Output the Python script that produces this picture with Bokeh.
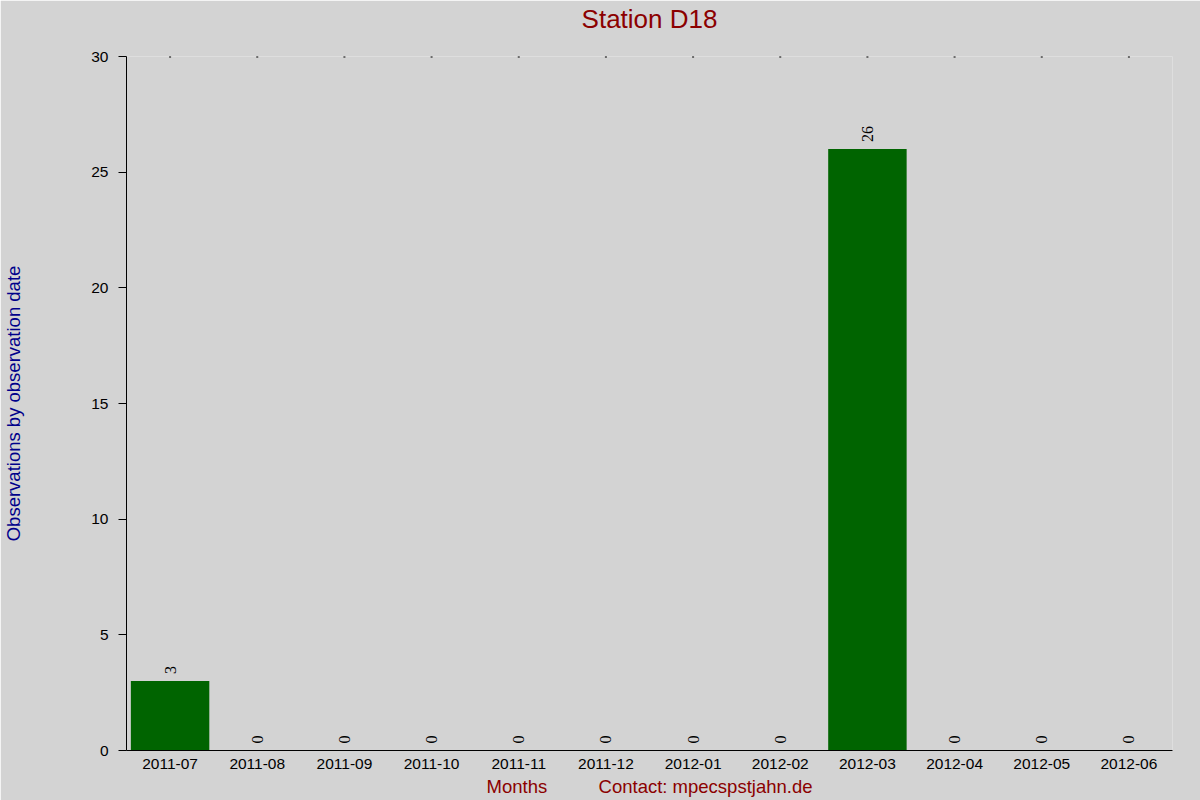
import math
from bokeh.plotting import figure
from bokeh.models import ColumnDataSource, LabelSet, FixedTicker, Range1d, Title
from bokeh.embed import file_html
from bokeh.resources import INLINE

months = ["2011-07", "2011-08", "2011-09", "2011-10", "2011-11", "2011-12",
          "2012-01", "2012-02", "2012-03", "2012-04", "2012-05", "2012-06"]
counts = [3, 0, 0, 0, 0, 0, 0, 0, 26, 0, 0, 0]
y_ticks = [0, 5, 10, 15, 20, 25, 30]
y_max = 30

title_text = "Station D18"
x_label = "Months" + "\u00a0" * 10 + "Contact: mpecspstjahn.de"
y_label = "Observations by observation date"

FONT = "Liberation Sans"
BG = "#d3d3d3"

src = ColumnDataSource(dict(month=months, count=counts, label=[str(c) for c in counts]))
top_src = ColumnDataSource(dict(month=months, top=[y_max] * len(months)))

p = figure(x_range=months, y_range=Range1d(0, y_max), width=1200, height=800,
           output_backend="svg", toolbar_location=None, title_location=None,
           min_border_left=126, min_border_right=28, min_border_top=56, min_border_bottom=50,
           background_fill_color=BG, border_fill_color=BG, outline_line_color=None)

# spacer between frame and title (keeps the title near the top edge)
spacer = Title(text="\u00a0", text_font_size="8px", standoff=8, text_color=BG)
p.add_layout(spacer, "above")

main_title = Title(text=title_text, align="center", vertical_align="top", standoff=4,
                   text_font=FONT, text_font_size="26px", text_font_style="normal",
                   text_color="#8b0000")
p.add_layout(main_title, "above")

p.vbar(x="month", top="count", width=0.9, source=src, fill_color="#006400", line_color=None)

# tiny tick dots along the top edge
p.scatter(x="month", y="top", source=top_src, marker="square", size=2,
          fill_color="black", line_color=None)

labels = LabelSet(x="month", y="count", text="label", source=src, angle=math.pi / 2,
                  text_align="left", text_baseline="middle", y_offset=7,
                  text_font=FONT, text_font_size="16px", text_color="black")
p.add_layout(labels)

p.xgrid.visible = False
p.ygrid.visible = False

ya = p.yaxis[0]
ya.ticker = FixedTicker(ticks=y_ticks)
ya.minor_tick_line_color = None
ya.major_tick_in = 0
ya.major_tick_out = 8
ya.major_label_standoff = 10
ya.axis_line_color = "black"
ya.major_label_text_font = FONT
ya.major_label_text_font_size = "15.5px"
ya.major_label_text_color = "black"
ya.axis_label = y_label
ya.axis_label_text_font = FONT
ya.axis_label_text_font_size = "18.5px"
ya.axis_label_text_font_style = "normal"
ya.axis_label_text_color = "#00008b"
ya.axis_label_standoff = 64

xa = p.xaxis[0]
xa.major_tick_in = 0
xa.major_tick_out = 0
xa.axis_line_color = "black"
xa.major_label_standoff = 8
xa.major_label_text_font = FONT
xa.major_label_text_font_size = "15.5px"
xa.major_label_text_color = "black"
xa.axis_label = x_label
xa.axis_label_text_font = FONT
xa.axis_label_text_font_size = "18.5px"
xa.axis_label_text_font_style = "normal"
xa.axis_label_text_color = "#8b0000"
xa.axis_label_standoff = 4

open("out.html", "w").write(file_html(p, INLINE))
